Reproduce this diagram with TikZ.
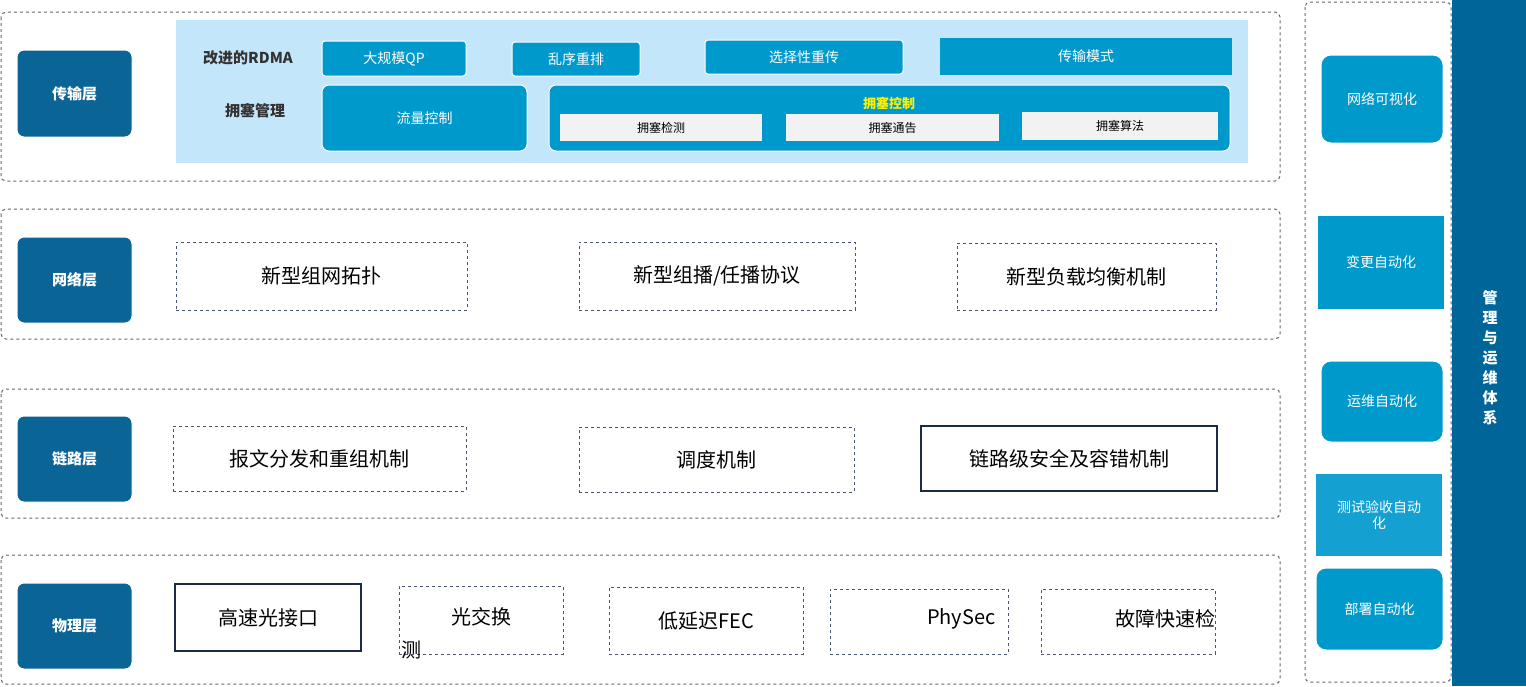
\documentclass[tikz,border=0pt]{standalone}
\usepackage{fontspec}
\setmainfont{Noto Sans CJK SC}
\begin{document}
\begin{tikzpicture}[x=1pt,y=-1pt,
 frame/.style={draw=gray!80!black,dashed,line width=1pt,rounded corners=5pt},
 lay/.style={draw=white,line width=1pt,fill=layc,rounded corners=7pt,text=white,font=\fontsize{15}{17}\selectfont\bfseries},
 bb/.style={draw=white,line width=1pt,fill=boxc,text=white,font=\fontsize{14}{16}\selectfont},
 gr/.style={fill=black!5,font=\fontsize{12}{14}\selectfont},
 dbox/.style={draw=slate,dashed,line width=1pt,font=\fontsize{20}{24}\selectfont},
 sbox/.style={draw=navy,line width=1.3pt,font=\fontsize{20}{24}\selectfont}]
\definecolor{layc}{HTML}{0A6496}
\definecolor{boxc}{HTML}{0099CC}
\definecolor{band}{HTML}{006699}
\definecolor{slate}{HTML}{4A5670}
\definecolor{navy}{HTML}{1A2A48}
\useasboundingbox (0,0) rectangle (1526,686);
% frames
\draw[frame] (1,12) rectangle (1280,181);
\draw[frame] (1,209) rectangle (1280,339);
\draw[frame] (1,389) rectangle (1280,518);
\draw[frame] (1,555) rectangle (1280,684);
\draw[frame] (1305,2) rectangle (1451,682);
\fill[band] (1452,0) rectangle (1526,686);
\node[text=white,font=\fontsize{15}{20}\selectfont\bfseries,align=center] (mg) at (1490,358) {管\\理\\与\\运\\维\\体\\系};
% layer labels
\node[lay,minimum width=115pt,minimum height=87pt] (l1) at (74.5,93.5) {传输层};
\node[lay,minimum width=115pt,minimum height=86pt] (l2) at (74.5,280) {网络层};
\node[lay,minimum width=115pt,minimum height=86pt] (l3) at (74.5,459) {链路层};
\node[lay,minimum width=115pt,minimum height=86pt] (l4) at (74.5,626) {物理层};
% transport
\fill[fill={rgb,255:red,196;green,230;blue,250}] (176,20) rectangle (1248,163);
\node[font=\fontsize{15}{17}\selectfont\bfseries,text=black!80] (rd) at (248,58) {改进的RDMA};
\node[font=\fontsize{15}{17}\selectfont\bfseries,text=black!80] (yg) at (255,111) {拥塞管理};
\node[bb,rounded corners=3pt,minimum width=144pt,minimum height=35pt] (q1) at (394,58.5) {大规模QP};
\node[bb,rounded corners=3pt,minimum width=128pt,minimum height=34pt] (q2) at (576,59) {乱序重排};
\node[bb,rounded corners=3pt,minimum width=198pt,minimum height=34pt] (q3) at (804,57) {选择性重传};
\node[bb,draw=none,minimum width=292pt,minimum height=37pt] (q4) at (1086,56.5) {传输模式};
\node[bb,rounded corners=7pt,minimum width=205pt,minimum height=66pt] (fc) at (424.5,118) {流量控制};
\node[bb,rounded corners=7pt,minimum width=681pt,minimum height=66pt] (cc) at (889.5,118) {};
\node[text=yellow,font=\fontsize{13}{15}\selectfont\bfseries] (cct) at (889,103) {拥塞控制};
\node[gr,minimum width=202pt,minimum height=27pt] (g1) at (661,127.5) {拥塞检测};
\node[gr,minimum width=213pt,minimum height=27pt] (g2) at (892.5,127.5) {拥塞通告};
\node[gr,minimum width=196pt,minimum height=28pt] (g3) at (1120,126) {拥塞算法};
% network
\node[dbox,minimum width=291pt,minimum height=68pt] (n1) at (321.5,276) {新型组网拓扑};
\node[dbox,minimum width=276pt,minimum height=68pt] (n2) at (717,276) {新型组播/任播协议};
\node[dbox,minimum width=259pt,minimum height=67pt] (n3) at (1086.5,276.5) {新型负载均衡机制};
% link
\node[dbox,minimum width=293pt,minimum height=65pt] (k1) at (319.5,458.5) {报文分发和重组机制};
\node[dbox,minimum width=275pt,minimum height=65pt] (k2) at (716.5,459.5) {调度机制};
\node[sbox,minimum width=296pt,minimum height=65pt] (k3) at (1069,458.5) {链路级安全及容错机制};
% physical
\node[sbox,minimum width=186pt,minimum height=67pt] (p1) at (268,617.5) {高速光接口};
\node[dbox,minimum width=164pt,minimum height=68pt] (p2) at (481,620) {};
\node[font=\fontsize{20}{24}\selectfont] (p2a) at (481,617) {光交换};
\node[font=\fontsize{20}{24}\selectfont] (p2b) at (411,650) {测};
\node[dbox,minimum width=194pt,minimum height=67pt] (p3) at (706,620.5) {低延迟FEC};
\node[dbox,minimum width=178pt,minimum height=65pt] (p4) at (919,621.5) {};
\node[font=\fontsize{20}{24}\selectfont,anchor=east] (p4t) at (999,619) {PhySec};
\node[dbox,minimum width=174pt,minimum height=65pt] (p5) at (1128,621.5) {};
\node[font=\fontsize{20}{24}\selectfont,anchor=east] (p5t) at (1219,619) {故障快速检};
% right
\node[bb,rounded corners=10pt,minimum width=122pt,minimum height=88pt] (r1) at (1382,99) {网络可视化};
\node[bb,draw=none,minimum width=126pt,minimum height=93pt] (r2) at (1381,262.5) {变更自动化};
\node[bb,rounded corners=10pt,minimum width=122pt,minimum height=81pt] (r3) at (1382,401.5) {运维自动化};
\node[bb,draw=none,fill={rgb,255:red,20;green,160;blue,208},minimum width=126pt,minimum height=82pt,align=center,text width=118pt,inner sep=2pt] (r4) at (1379,515) {测试验收自动\\化};
\node[bb,rounded corners=10pt,minimum width=127pt,minimum height=82pt] (r5) at (1379.5,609) {部署自动化};
\end{tikzpicture}
\end{document}
